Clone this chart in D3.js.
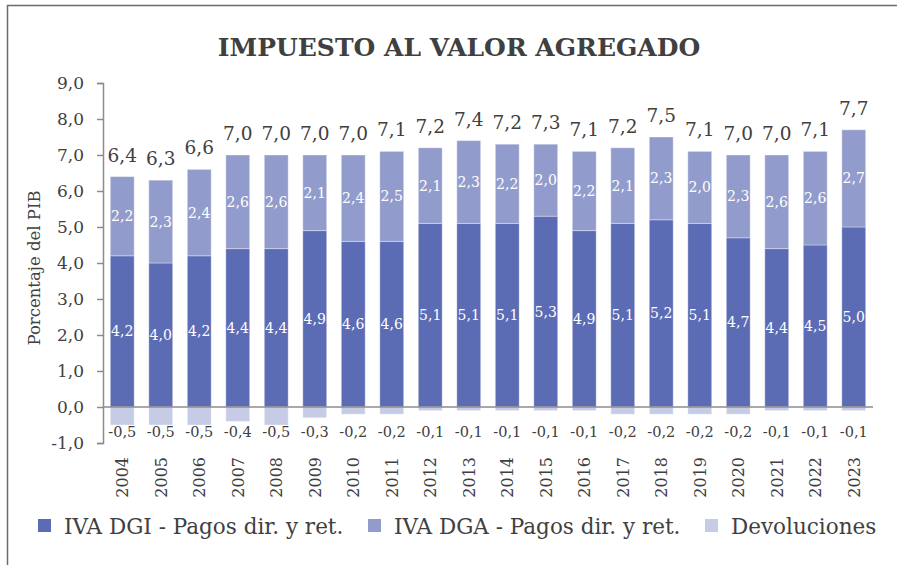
<!DOCTYPE html>
<html>
<head>
<meta charset="utf-8">
<title>Impuesto al valor agregado</title>
<script src="https://cdn.jsdelivr.net/npm/d3@7"></script>
<style>
  body { margin: 0; background: #ffffff; }
  svg { display: block; font-family: "DejaVu Serif", serif; }
</style>
</head>
<body>
<div id="chart"></div>
<script>
'use strict';

//#region data
const years   = ['2004','2005','2006','2007','2008','2009','2010','2011','2012','2013',
                 '2014','2015','2016','2017','2018','2019','2020','2021','2022','2023'];
const ivaDGI  = [4.2,4.0,4.2,4.4,4.4,4.9,4.6,4.6,5.1,5.1,5.1,5.3,4.9,5.1,5.2,5.1,4.7,4.4,4.5,5.0];
const ivaDGA  = [2.2,2.3,2.4,2.6,2.6,2.1,2.4,2.5,2.1,2.3,2.2,2.0,2.2,2.1,2.3,2.0,2.3,2.6,2.6,2.7];
const devol   = [-0.5,-0.5,-0.5,-0.4,-0.5,-0.3,-0.2,-0.2,-0.1,-0.1,-0.1,-0.1,-0.1,-0.2,-0.2,-0.2,-0.2,-0.1,-0.1,-0.1];
const totals  = [6.4,6.3,6.6,7.0,7.0,7.0,7.0,7.1,7.2,7.4,7.2,7.3,7.1,7.2,7.5,7.1,7.0,7.0,7.1,7.7];
const yTicks  = [-1,0,1,2,3,4,5,6,7,8,9];
const seriesNames = ['IVA DGI - Pagos dir. y ret.', 'IVA DGA - Pagos dir. y ret.', 'Devoluciones'];
//#endregion

const colours  = ['#5b6bb4', '#929ccc', '#c7cce6'];
const textCol  = '#404040';
const W = 897, H = 565;

let fmt = function(v) { return d3.format('.1f')(v).replace('.', ',').replace('−', '-'); };

const svg = d3.select('#chart').append('svg').attr('width', W).attr('height', H);

//outer frame (right and bottom edges fall outside the picture)
svg.append('rect').attr('x', 7.5).attr('y', 5.5).attr('width', W + 10).attr('height', H + 10)
  .attr('fill', 'none').attr('stroke', '#6b6b6b').attr('stroke-width', 1.5);

//scales
let x = d3.scaleBand().domain(years).range([103, 873]).paddingInner(0.38).paddingOuter(0.19);
let y = d3.scaleLinear().domain([-1, 9]).range([443, 83]);

//title
svg.append('text').attr('x', 459).attr('y', 56).attr('text-anchor', 'middle')
  .attr('font-size', 25).attr('font-weight', 'bold').attr('fill', textCol)
  .text('IMPUESTO AL VALOR AGREGADO');

//y axis
let yAxis = d3.axisLeft(y).tickValues(yTicks).tickSize(6).tickFormat(fmt);
let gy = svg.append('g').attr('transform', 'translate(103,0)').call(yAxis);
gy.select('.domain').attr('stroke', '#8c8c8c').attr('stroke-width', 1.5);
gy.selectAll('.tick line').attr('stroke', '#8c8c8c').attr('stroke-width', 1.5);
gy.selectAll('.tick text').attr('font-family', '"DejaVu Serif", serif').attr('font-size', 17)
  .attr('fill', textCol).attr('x', -19);

//axis title
svg.append('text').attr('transform', 'translate(40,268) rotate(-90)').attr('text-anchor', 'middle')
  .attr('font-size', 16.5).attr('fill', textCol).text('Porcentaje del PIB');

//bars
let bars = svg.append('g');
years.forEach(function(yr, i) {
  let bx = x(yr), bw = x.bandwidth();
  bars.append('rect').attr('x', bx).attr('width', bw)
    .attr('y', y(ivaDGI[i])).attr('height', y(0) - y(ivaDGI[i])).attr('fill', colours[0]);
  bars.append('rect').attr('x', bx).attr('width', bw)
    .attr('y', y(ivaDGI[i] + ivaDGA[i])).attr('height', y(ivaDGI[i]) - y(ivaDGI[i] + ivaDGA[i]))
    .attr('fill', colours[1]);
  bars.append('rect').attr('x', bx).attr('width', bw)
    .attr('y', y(0)).attr('height', y(devol[i]) - y(0)).attr('fill', colours[2]);
});
bars.selectAll('rect').attr('stroke', '#ffffff').attr('stroke-opacity', 0.35).attr('stroke-width', 1);

//zero line
svg.append('line').attr('x1', 103).attr('x2', 873).attr('y1', y(0)).attr('y2', y(0))
  .attr('stroke', '#8c8c8c').attr('stroke-width', 1.5);

//labels
let labels = svg.append('g');
years.forEach(function(yr, i) {
  let cx = x(yr) + x.bandwidth() / 2;
  labels.append('text').attr('x', cx).attr('y', y(ivaDGI[i] / 2)).attr('dy', '0.35em')
    .attr('text-anchor', 'middle').attr('font-size', 14).attr('fill', '#ffffff').text(fmt(ivaDGI[i]));
  labels.append('text').attr('x', cx).attr('y', y(ivaDGI[i] + ivaDGA[i] / 2)).attr('dy', '0.35em')
    .attr('text-anchor', 'middle').attr('font-size', 14).attr('fill', '#ffffff').text(fmt(ivaDGA[i]));
  labels.append('text').attr('x', cx).attr('y', y(ivaDGI[i] + ivaDGA[i]) - 15)
    .attr('text-anchor', 'middle').attr('font-size', 18.5).attr('fill', textCol).text(fmt(totals[i]));
  labels.append('text').attr('x', cx).attr('y', y(-1) - 6)
    .attr('text-anchor', 'middle').attr('font-size', 14.5).attr('fill', textCol).text(fmt(devol[i]));
  //year label, rotated
  labels.append('text').attr('transform', 'translate(' + (cx + 6) + ',457) rotate(-90)')
    .attr('text-anchor', 'end').attr('font-size', 16).attr('fill', textCol).text(yr);
});

//legend
let legendX = [38, 368, 705];
let legend = svg.append('g');
seriesNames.forEach(function(name, i) {
  legend.append('rect').attr('x', legendX[i]).attr('y', 519).attr('width', 13).attr('height', 13)
    .attr('fill', colours[i]);
  legend.append('text').attr('x', legendX[i] + 26).attr('y', 526).attr('dy', '0.35em')
    .attr('font-size', 21.5).attr('fill', textCol).text(name);
});
</script>
</body>
</html>
